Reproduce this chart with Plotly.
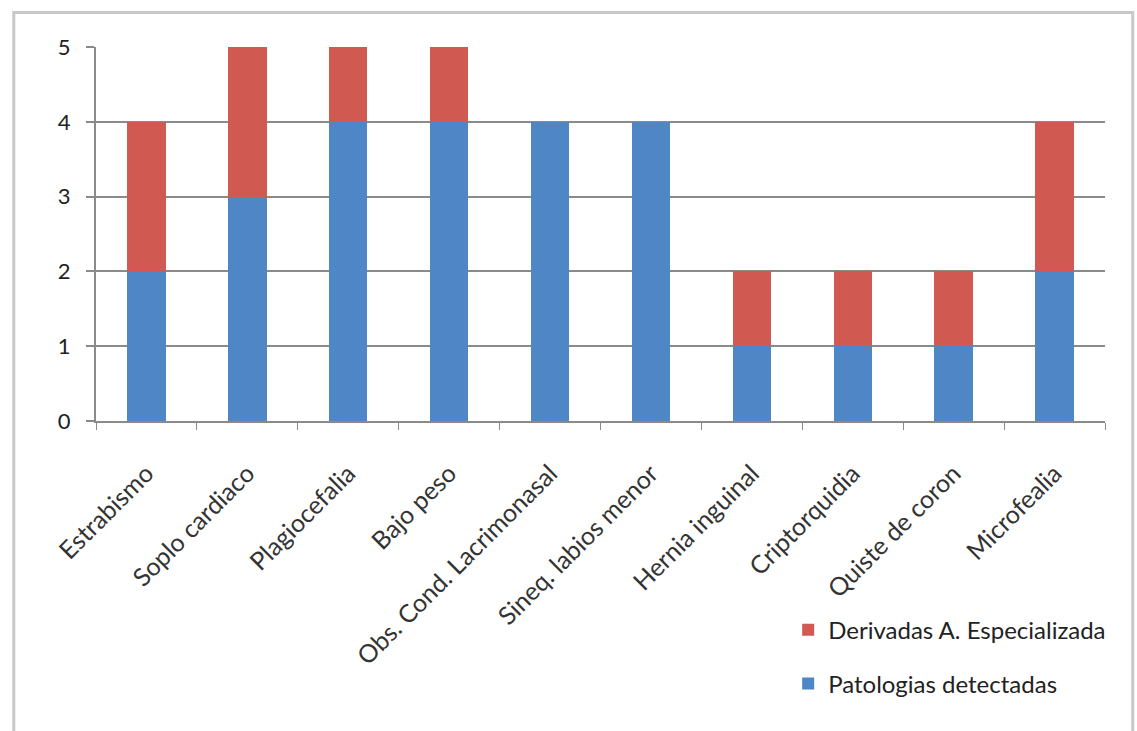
import plotly.graph_objects as go

categories = ["Estrabismo", "Soplo cardiaco", "Plagiocefalia", "Bajo peso",
              "Obs. Cond. Lacrimonasal", "Sineq. labios menor", "Hernia inguinal",
              "Criptorquidia", "Quiste de coron", "Microfealia"]
patologias = [2, 3, 4, 4, 4, 4, 1, 1, 1, 2]
derivadas = [2, 2, 1, 1, 0, 0, 1, 1, 1, 2]
y_ticks = [0, 1, 2, 3, 4, 5]

FONT = "Lato"
GRID = "#8a8a8a"

fig = go.Figure()
fig.add_trace(go.Bar(x=categories, y=patologias, name="Patologias detectadas",
                     marker=dict(color="#4F86C5", line=dict(width=0)),
                     legend="legend2", showlegend=True))
fig.add_trace(go.Bar(x=categories, y=derivadas, name="Derivadas A. Especializada",
                     marker=dict(color="#D05A52", line=dict(width=0)),
                     legend="legend", showlegend=True))

fig.update_layout(
    width=1137, height=731,
    barmode="stack", bargap=0.62,
    showlegend=True,
    plot_bgcolor="white", paper_bgcolor="white",
    margin=dict(l=96, r=32, t=47, b=310),
    font=dict(family=FONT, color="#222222"),
    xaxis=dict(tickson="boundaries", ticks="outside", ticklen=7, tickcolor=GRID, tickwidth=1,
               showline=True, linecolor=GRID, linewidth=2, showgrid=False,
               tickangle=-45, ticklabelstandoff=26,
               tickfont=dict(size=25, color="#333333")),
    yaxis=dict(range=[0, 5], tickvals=y_ticks, ticks="outside", ticklen=8, tickcolor=GRID,
               tickwidth=2, ticklabelstandoff=11,
               showline=True, linecolor=GRID, linewidth=2,
               showgrid=True, gridcolor=GRID, gridwidth=2, zeroline=False,
               tickfont=dict(size=22, color="#222222")),
    legend=dict(x=0.686, y=-0.559, xanchor="left", yanchor="middle",
                font=dict(size=24, color="#222222"), bgcolor="rgba(0,0,0,0)"),
    legend2=dict(x=0.686, y=-0.703, xanchor="left", yanchor="middle",
                 font=dict(size=24, color="#222222"), bgcolor="rgba(0,0,0,0)"),
    shapes=[dict(type="rect", xref="paper", yref="paper",
                 x0=-0.0815, x1=1.0275, y0=1.0925, y1=-1.0,
                 line=dict(color="#c8c8c8", width=3))],
)

fig.write_html("out.html")
